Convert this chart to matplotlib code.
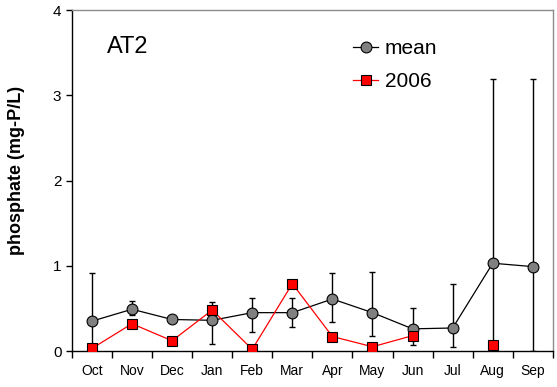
import numpy as np
import matplotlib
matplotlib.use("Agg")
import matplotlib.pyplot as plt
from matplotlib.ticker import FixedLocator

plt.rcParams['font.family'] = ['Liberation Sans', 'DejaVu Sans']

months = ["Oct", "Nov", "Dec", "Jan", "Feb", "Mar", "Apr", "May", "Jun", "Jul", "Aug", "Sep"]
mean_vals = [0.35, 0.49, 0.37, 0.36, 0.45, 0.45, 0.61, 0.45, 0.26, 0.27, 1.03, 0.99]
err_upper = [0.91, 0.59, 0.37, 0.57, 0.62, 0.62, 0.92, 0.93, 0.51, 0.79, 3.19, 3.19]
err_lower = [0.00, 0.42, 0.37, 0.08, 0.22, 0.28, 0.34, 0.18, 0.07, 0.05, 0.00, 0.00]
vals_2006 = [0.03, 0.32, 0.12, 0.48, 0.02, 0.79, 0.17, 0.05, 0.18, np.nan, 0.07, np.nan]
site = "AT2"

x = np.arange(len(months))
mean_arr = np.array(mean_vals)
yerr = np.vstack([mean_arr - np.array(err_lower), np.array(err_upper) - mean_arr])

fig = plt.figure(figsize=(5.57, 3.87), dpi=100)
ax = fig.add_axes([0.129, 0.093, 0.8636, 0.881])

ax.errorbar(x, mean_arr, yerr=yerr, fmt='none', ecolor='black', elinewidth=1,
            capsize=2.0, capthick=1, zorder=2)
ax.plot(x, mean_arr, color='black', lw=0.9, marker='o', markersize=7.8,
        markerfacecolor='#808080', markeredgecolor='black', markeredgewidth=0.8,
        label='mean', zorder=3)
ax.plot(x, vals_2006, color='red', lw=0.9, marker='s', markersize=7.0,
        markerfacecolor='red', markeredgecolor='black', markeredgewidth=0.8,
        label='2006', zorder=4)

ax.set_xlim(-0.5, len(months) - 0.5)
ax.set_ylim(0, 4)
ax.set_yticks([0, 1, 2, 3, 4])
ax.set_xticks(x)
ax.set_xticklabels(months)
ax.xaxis.set_minor_locator(FixedLocator(np.arange(-0.5, len(months), 1.0)))
ax.tick_params(axis='x', which='major', length=0, pad=9, labelsize=10)
ax.tick_params(axis='x', which='minor', length=5, width=1, direction='out')
ax.tick_params(axis='y', length=4.5, width=1, direction='out', labelsize=11, pad=3)

for side in ('left', 'bottom'):
    ax.spines[side].set_color('black')
    ax.spines[side].set_linewidth(1)
for side in ('top', 'right'):
    ax.spines[side].set_color('#8c8c8c')
    ax.spines[side].set_linewidth(1)

ax.set_ylabel('phosphate (mg-P/L)', fontsize=13, fontweight='bold')
ax.yaxis.set_label_coords(-0.098, 0.53)

ax.text(0.073, 0.875, site, transform=ax.transAxes, fontsize=17, va='baseline')

ax.legend(loc='upper left', bbox_to_anchor=(0.585, 0.915), frameon=False,
          fontsize=15, handlelength=1.2, handletextpad=0.3, labelspacing=0.66,
          borderaxespad=0, borderpad=0)

fig.savefig('out.png', dpi=100)
